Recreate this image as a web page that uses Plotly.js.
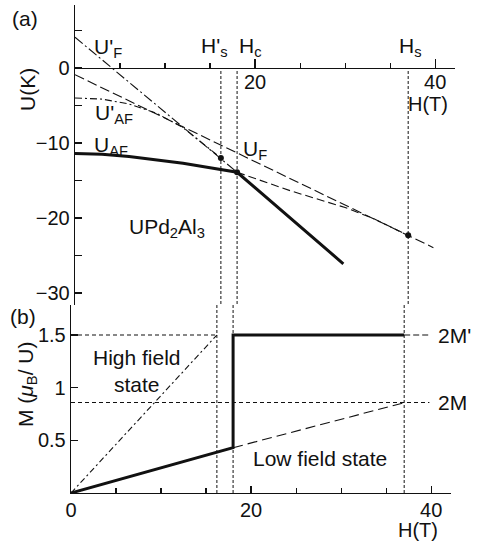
<!DOCTYPE html>
<html>
<head>
<meta charset="utf-8">
<script src="https://cdn.plot.ly/plotly-3.0.1.min.js"></script>
<style>
html,body{margin:0;padding:0;background:#fff;}
#chart{width:480px;height:542px;}
</style>
</head>
<body>
<div id="chart"></div>
<script>
// ---- critical fields (T) ----
const critH = [16.2, 18.0, 37.0];          // H's, Hc, Hs

// ---- panel (a): energies U (K) vs H (T) ----
const H_UpF  = [0, 16.2, 18.0];
const U_UpF  = [4.1, -12.0, -13.9];        // U'F  (dash-dot)
const H_UF   = [0, 37.0, 39.8];
const U_UF   = [-0.9, -22.3, -23.95];      // UF   (long dash)
const H_UpAF = [0, 3, 6, 9, 12, 14, 16.2];
const U_UpAF = [-4.0, -4.15, -4.8, -6.0, -7.95, -9.9, -12.0]; // U'AF
const H_UAF  = [0, 3, 6, 9, 12, 15, 18.0, 29.8];
const U_UAF  = [-11.4, -11.5, -11.8, -12.2, -12.7, -13.3, -13.9, -26.1]; // UAF (bold)
const H_UAFx = [18.0, 21, 24, 27, 30, 33, 37.0];
const U_UAFx = [-13.9, -15.2, -16.4, -17.5, -18.6, -20.0, -22.3]; // UAF extension (dash)
const H_dots = [16.2, 18.0, 37.0];
const U_dots = [-12.0, -13.9, -22.3];

// ---- panel (b): magnetization M (muB/U) vs H (T) ----
const H_Mbold = [0, 18.0, 18.0, 37.0];
const M_Mbold = [0, 0.43, 1.5, 1.5];
const H_Mlead = [37.0, 39.8];
const M_Mlead = [1.5, 1.5];
const H_Mlow  = [18.0, 37.1];
const M_Mlow  = [0.43, 0.86];
const H_Mhigh = [0, 16.2];
const M_Mhigh = [0, 1.5];
const H_M15   = [0, 16.2];
const M_M15   = [1.5, 1.5];
const H_M086  = [0, 39.8];
const M_M086  = [0.86, 0.86];

const yTickA = [0, -10, -20, -30];
const xTickA = [20, 40];
const xTickB = [0, 20, 40];
const yTickB = [0.5, 1, 1.5];

const FONT = 'Liberation Sans, Arial, Helvetica, sans-serif';
const K = '#111';

function ln(x, y, xa, ya, width, dash) {
  return {x: x, y: y, xaxis: xa, yaxis: ya, type: 'scatter', mode: 'lines',
          line: {color: K, width: width, dash: dash}, hoverinfo: 'skip', showlegend: false};
}

const traces = [
  ln(H_UpF, U_UpF, 'x', 'y', 1.1, '10px,3px,2px,3px'),
  ln(H_UF, U_UF, 'x', 'y', 1.1, '10px,4px'),
  ln(H_UpAF, U_UpAF, 'x', 'y', 1.1, '7px,3px,2px,3px'),
  ln(H_UAFx, U_UAFx, 'x', 'y', 1.1, '8px,4px'),
  ln(H_UAF, U_UAF, 'x', 'y', 3, 'solid'),
  {x: H_dots, y: U_dots, xaxis: 'x', yaxis: 'y', type: 'scatter', mode: 'markers',
   marker: {color: K, size: 6}, hoverinfo: 'skip', showlegend: false},
  ln(H_M15, M_M15, 'x2', 'y2', 1.1, '4px,3px'),
  ln(H_M086, M_M086, 'x2', 'y2', 1.1, '4px,3px'),
  ln(H_Mhigh, M_Mhigh, 'x2', 'y2', 1.1, '6px,3px,2px,3px'),
  ln(H_Mlow, M_Mlow, 'x2', 'y2', 1.1, '10px,5px'),
  ln(H_Mlead, M_Mlead, 'x2', 'y2', 1.1, '6px,3px'),
  ln(H_Mbold, M_Mbold, 'x2', 'y2', 3, 'solid')
];

// geometry
const L = 71, R = 25, T = 5, B = 49, W = 480, Hh = 542;
const pw = W - L - R, ph = Hh - T - B;
const yARange = [-31.6, 8.4];
const yBRange = [0, 1.785];
const domA = [0.3852, 1];
const domB = [0, 0.3852];
const xRange = [0, 42.2];
const posXA = domA[0] + (0 - yARange[0]) / (yARange[1] - yARange[0]) * (domA[1] - domA[0]);

function P(px, py) { return {x: (px - L) / pw, y: (Hh - B - py) / ph, xref: 'paper', yref: 'paper'}; }
function ann(text, px, py, opt) {
  return Object.assign(P(px, py), {text: text, showarrow: false,
    font: {family: FONT, size: 21, color: K}, xanchor: 'center', yanchor: 'middle'}, opt || {});
}

const shapes = [];
critH.forEach(h => {
  shapes.push({type: 'line', xref: 'x', yref: 'y', x0: h, x1: h, y0: -0.4, y1: yARange[0],
               line: {color: K, width: 1, dash: '3px,2px'}});
  shapes.push({type: 'line', xref: 'x2', yref: 'y2 domain', x0: h, x1: h, y0: 0, y1: 1,
               line: {color: K, width: 1, dash: '3px,2px'}});
});

const axCommon = {showgrid: false, zeroline: false, showline: true, linecolor: K, linewidth: 1.3,
  ticks: 'inside', tickcolor: K, tickwidth: 1.2, tickfont: {family: FONT, size: 20, color: K}};

const layout = {
  width: W, height: Hh, margin: {l: L, r: R, t: T, b: B},
  paper_bgcolor: '#fff', plot_bgcolor: 'rgba(0,0,0,0)',
  font: {family: FONT, color: K},
  xaxis: Object.assign({}, axCommon, {domain: [4 / pw, 1], range: xRange, anchor: 'free',
    position: posXA, tickmode: 'array', tickvals: xTickA, ticklen: 9, ticklabelstandoff: -4,
    minor: {tickmode: 'linear', tick0: 0, dtick: 5, ticks: 'inside', ticklen: 5, tickcolor: K}}),
  yaxis: Object.assign({}, axCommon, {domain: domA, range: yARange, anchor: 'x',
    tickmode: 'array', tickvals: yTickA, ticklen: 7,
    minor: {tickmode: 'linear', tick0: 0, dtick: 5, ticks: 'inside', ticklen: 7, tickcolor: K}}),
  xaxis2: Object.assign({}, axCommon, {domain: [0, 380 / pw], range: xRange, anchor: 'y2',
    tickmode: 'array', tickvals: xTickB, ticklen: 7, ticklabelstandoff: -1,
    minor: {tickmode: 'linear', tick0: 0, dtick: 5, ticks: 'inside', ticklen: 5, tickcolor: K}}),
  yaxis2: Object.assign({}, axCommon, {domain: domB, range: yBRange, anchor: 'x2',
    tickmode: 'array', tickvals: yTickB, ticktext: ['0.5', '1', '1.5'], ticklen: 7}),
  shapes: shapes,
  annotations: [
    ann('(a)', 25, 18),
    ann('U(K)', 27, 90, {textangle: -90}),
    ann("U'<sub>F</sub>", 108, 48),
    ann("U'<sub>AF</sub>", 114, 114),
    ann('U<sub>AF</sub>', 111, 146),
    ann('U<sub>F</sub>', 255, 150),
    ann("H'<sub>s</sub>", 214, 47),
    ann('H<sub>c</sub>', 250, 47),
    ann('H<sub>s</sub>', 410, 47),
    ann('H(T)', 428, 104, {font: {family: FONT, size: 20, color: K}}),
    ann('UPd<sub>2</sub>Al<sub>3</sub>', 167, 228),
    ann('(b)', 23, 316),
    ann('M (<i>μ</i><sub>B</sub>/ U)', 27, 385, {textangle: -90}),
    ann('High field<br>state', 137, 371),
    ann('Low field state', 320, 458),
    ann("2M'", 436, 335, {xanchor: 'left'}),
    ann('2M', 436, 402, {xanchor: 'left'}),
    ann('H(T)', 418, 530, {font: {family: FONT, size: 20, color: K}})
  ]
};

Plotly.newPlot('chart', traces, layout, {staticPlot: true, displayModeBar: false});
</script>
</body>
</html>
